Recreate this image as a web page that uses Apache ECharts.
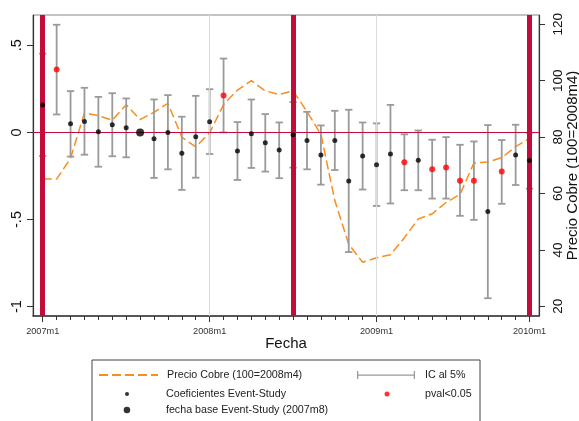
<!DOCTYPE html>
<html>
<head>
<meta charset="utf-8">
<title>Event study cobre</title>
<script src="https://cdn.jsdelivr.net/npm/echarts@6/dist/echarts.min.js"></script>
<style>
  html, body { margin: 0; padding: 0; background: #fff; }
  #main { width: 579px; height: 421px; }
</style>
</head>
<body>
<div id="main"></div>
<script>
// meses: 0 = 2007m1 ... 35 = 2009m12
var months = [0, 1, 2, 3, 4, 5, 6, 7, 8, 9, 10, 11, 12, 13, 14, 15, 16, 17,
  18, 19, 20, 21, 22, 23, 24, 25, 26, 27, 28, 29, 30, 31, 32, 33, 34, 35];

var coef = [0.158, 0.361, 0.050, 0.063, 0.004, 0.044, 0.027, 0, -0.036, 0.000, -0.120, -0.025,
  0.061, 0.212, -0.107, -0.008, -0.059, -0.101, -0.013, -0.046, -0.130, -0.046, -0.279, -0.135,
  -0.185, -0.124, -0.172, -0.160, -0.212, -0.202, -0.277, -0.277, -0.454, -0.225, -0.130, -0.162];

var ciHigh = [0.452, 0.618, 0.237, 0.256, 0.204, 0.225, 0.195, null, 0.189, 0.214, 0.090, 0.210,
  0.248, 0.424, 0.059, 0.189, 0.105, 0.057, 0.174, 0.118, 0.040, 0.124, 0.130, 0.057,
  0.052, 0.158, -0.011, 0.011, -0.042, -0.027, -0.071, -0.052, 0.042, -0.044, 0.044, -0.002];

var ciLow = [-0.135, 0.103, -0.139, -0.128, -0.197, -0.137, -0.143, null, -0.261, -0.212, -0.330, -0.260,
  -0.124, 0.000, -0.273, -0.204, -0.225, -0.263, -0.202, -0.212, -0.300, -0.216, -0.687, -0.328,
  -0.422, -0.408, -0.332, -0.332, -0.380, -0.380, -0.479, -0.502, -0.952, -0.410, -0.302, -0.323];

// 1 = pval<0.05
var sig = [0, 1, 0, 0, 0, 0, 0, 0, 0, 0, 0, 0,
  0, 1, 0, 0, 0, 0, 0, 0, 0, 0, 0, 0,
  0, 0, 1, 0, 1, 1, 1, 1, 0, 1, 0, 0];

// precio cobre (100 = 2008m4)
var price = [65.1, 65.1, 72.5, 88.6, 87.6, 86.0, 91.5, 86.2, 88.8, 92.0, 80.0, 76.5,
  81.5, 91.5, 96.7, 100, 96.4, 95.1, 96.4, 89.0, 81.0, 57.5, 42.0, 35.6,
  37.2, 38.3, 44.3, 51.0, 52.8, 56.8, 59.7, 70.8, 71.2, 72.7, 76.6, 79.5];

var baseMonth = 7; // 2007m8
var eventLines = [0, 18, 35];
var gridLines = [12, 24];

var xTickPos = [0, 12, 24, 35];
var xTickLabels = ['2007m1', '2008m1', '2009m1', '2010m1'];
var yTickVals = [-1, -0.5, 0, 0.5];
var yTickLabels = ['-1', '-.5', '0', '.5'];
var y2TickVals = [20, 40, 60, 80, 100, 120];

var FONT = 'Liberation Sans, Arial, sans-serif';
var RED = '#c40c3c';

var ciData = [], coefData = [], sigData = [], baseData = [], priceData = [];
for (var i = 0; i < months.length; i++) {
  priceData.push([months[i], price[i]]);
  if (months[i] === baseMonth) {
    baseData.push([months[i], coef[i]]);
    continue;
  }
  ciData.push([months[i], ciLow[i], ciHigh[i]]);
  if (sig[i]) {
    sigData.push([months[i], coef[i]]);
  } else {
    coefData.push([months[i], coef[i]]);
  }
}

function renderCI(params, api) {
  var x = api.value(0);
  var lo = api.coord([x, api.value(1)]);
  var hi = api.coord([x, api.value(2)]);
  var w = 3.7;
  var style = { stroke: '#9a9a9a', lineWidth: 1.8 };
  return {
    type: 'group',
    children: [
      { type: 'line', shape: { x1: lo[0], y1: lo[1], x2: hi[0], y2: hi[1] }, style: style },
      { type: 'line', shape: { x1: hi[0] - w, y1: hi[1], x2: hi[0] + w, y2: hi[1] }, style: style },
      { type: 'line', shape: { x1: lo[0] - w, y1: lo[1], x2: lo[0] + w, y2: lo[1] }, style: style }
    ]
  };
}

// the legend is positioned by its drawn bounding box, so dots start at (centre - radius)
function legendBox(left, top, w, h, names, pad, extra) {
  var l = {
    left: left, top: top, padding: 0,
    itemWidth: w, itemHeight: h,
    selectedMode: false,
    data: names,
    textStyle: { fontFamily: FONT, fontSize: 10.7, color: '#222', lineHeight: 14, padding: [0, 0, 0, pad || 0] }
  };
  if (extra) {
    for (var k in extra) l[k] = extra[k];
  }
  return l;
}

function getOption() {
  var option = {
    backgroundColor: '#fff',
    animation: false,
    grid: {
      left: 33, right: 40, top: 15, bottom: 105,
      outerBoundsMode: 'none',
      show: true, borderColor: '#888', borderWidth: 1
    },
    legend: [
      legendBox(98, 368, 59, 10, ['Precio Cobre (100=2008m4)'], 4, { itemStyle: { opacity: 0 } }),
      legendBox(125, 387, 68, 4, ['Coeficientes Event-Study']),
      legendBox(123.7, 403, 68, 6.5, ['fecha base Event-Study (2007m8)']),
      legendBox(357, 368, 58, 8, [{
        name: 'IC al 5%',
        icon: 'path://M0,0h1.3v8h-1.3zM0,3.4h58v1.3h-58zM56.7,0h1.3v8h-1.3z'
      }], 5),
      legendBox(384.5, 387, 66, 5, ['pval<0.05'])
    ],
    graphic: [{
      type: 'rect',
      shape: { x: 92, y: 360, width: 388, height: 80 },
      style: { fill: 'none', stroke: '#444', lineWidth: 1 },
      silent: true
    }],
    xAxis: [{
      type: 'value', position: 'bottom',
      min: -0.7, max: 35.68,
      axisLine: { onZero: false, lineStyle: { color: '#333', width: 1.5 } },
      axisTick: { customValues: months, length: 4, lineStyle: { color: '#333' } },
      axisLabel: { show: false },
      splitLine: { show: false }
    }, {
      type: 'value', position: 'bottom',
      min: -0.7, max: 35.68,
      name: 'Fecha', nameLocation: 'middle', nameGap: 20, nameMoveOverlap: false,
      nameTextStyle: { fontFamily: FONT, fontSize: 15, color: '#111' },
      axisLine: { show: false, onZero: false },
      axisTick: { customValues: xTickPos, length: 6, lineStyle: { color: '#333' } },
      axisLabel: {
        customValues: xTickPos, margin: 11,
        fontFamily: FONT, fontSize: 9.2, color: '#333',
        formatter: function (v) { return xTickLabels[xTickPos.indexOf(v)]; }
      },
      splitLine: { show: false }
    }],
    yAxis: [{
      type: 'value', position: 'left',
      min: -1.054, max: 0.674,
      axisLine: { show: true, onZero: false, lineStyle: { color: '#333', width: 1.2 } },
      axisTick: { show: true, customValues: yTickVals, length: 6, lineStyle: { color: '#333' } },
      axisLabel: {
        customValues: yTickVals, rotate: 90, margin: 9,
        fontFamily: FONT, fontSize: 14.5, color: '#111',
        formatter: function (v) { return yTickLabels[yTickVals.indexOf(v)]; }
      },
      splitLine: { show: false }
    }, {
      type: 'value', position: 'right',
      min: 16.56, max: 123.3,
      name: 'Precio Cobre (100=2008m4)', nameLocation: 'middle', nameGap: 26.5, nameMoveOverlap: false,
      nameTextStyle: { fontFamily: FONT, fontSize: 15, color: '#111' },
      axisLine: { show: true, onZero: false, lineStyle: { color: '#333', width: 1.2 } },
      axisTick: { show: true, customValues: y2TickVals, length: 6, lineStyle: { color: '#333' } },
      axisLabel: {
        customValues: y2TickVals, rotate: 90, margin: 12,
        fontFamily: FONT, fontSize: 13.5, color: '#111'
      },
      splitLine: { show: false }
    }],
    series: [{
      // lineas de referencia
      type: 'line', data: [], z: 1, silent: true,
      markLine: {
        symbol: 'none', silent: true, label: { show: false },
        data: [
          { xAxis: gridLines[0], lineStyle: { color: '#dcdcdc', width: 1, type: 'solid' } },
          { xAxis: gridLines[1], lineStyle: { color: '#dcdcdc', width: 1, type: 'solid' } },
          { yAxis: 0, lineStyle: { color: RED, width: 1.2, type: 'solid' } },
          { xAxis: eventLines[0], lineStyle: { color: RED, width: 5, type: 'solid' } },
          { xAxis: eventLines[1], lineStyle: { color: RED, width: 5, type: 'solid' } },
          { xAxis: eventLines[2], lineStyle: { color: RED, width: 5, type: 'solid' } }
        ]
      }
    }, {
      name: 'Precio Cobre (100=2008m4)',
      type: 'line', yAxisIndex: 1, z: 3,
      data: priceData, symbol: 'none',
      itemStyle: { color: '#fb8c1e' },
      lineStyle: { color: '#fb8c1e', width: 1.5, type: [9, 4] }
    }, {
      name: 'IC al 5%',
      type: 'custom', z: 4,
      data: ciData,
      encode: { x: 0, y: [1, 2] },
      itemStyle: { color: '#9a9a9a' },
      renderItem: renderCI
    }, {
      name: 'Coeficientes Event-Study',
      type: 'scatter', z: 5,
      data: coefData, symbol: 'circle', symbolSize: 5,
      itemStyle: { color: '#000' }
    }, {
      name: 'pval<0.05',
      type: 'scatter', z: 5,
      data: sigData, symbol: 'circle', symbolSize: 6,
      itemStyle: { color: '#f00' }
    }, {
      name: 'fecha base Event-Study (2007m8)',
      type: 'scatter', z: 5,
      data: baseData, symbol: 'circle', symbolSize: 8,
      itemStyle: { color: '#000' }
    }]
  };
  return option;
}

var chart = echarts.init(document.getElementById('main'), null, { renderer: 'canvas' });
chart.setOption(getOption());
</script>
</body>
</html>
